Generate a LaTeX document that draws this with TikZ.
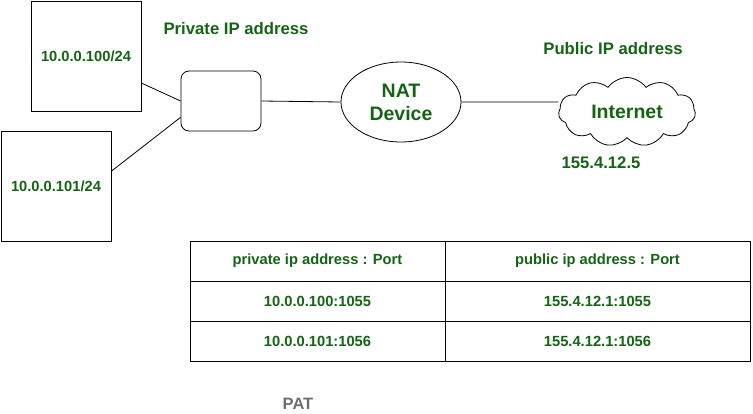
\documentclass[tikz,border=0pt]{standalone}
\usepackage{fontspec}
\setmainfont{Liberation Sans}
\usepackage{tikz}
\usetikzlibrary{shapes.geometric,shapes.symbols}
\definecolor{labelgreen}{RGB}{20,100,20}
\definecolor{patgray}{RGB}{110,110,110}
\newcommand{\hostbox}[3]{\node[hostbox] at (#1) (#2) {#3}}
\newcommand{\patcell}[4][]{\node[patcell,#1] at (#2) (#3) {#4}}
\tikzset{
  lbl/.style={text=labelgreen,font=\bfseries\fontsize{14.7}{17}\selectfont},
  biglbl/.style={text=labelgreen,font=\bfseries\fontsize{16.7}{19}\selectfont},
  hostbox/.style={draw,lbl,minimum size=110pt,inner sep=0pt},
  patcell/.style={draw,lbl,minimum height=40pt,inner sep=0pt},
  wire/.style={line width=0.8pt}
}

\begin{document}
\begin{tikzpicture}[x=1pt,y=-1pt,line width=0.8pt]
  \useasboundingbox (0,0) rectangle (753,413);
  \hostbox{86,56}{h1}{10.0.0.100/24};
  \hostbox{56,186}{h2}{10.0.0.101/24};
  \node[draw,rounded corners=8pt,minimum width=80pt,minimum height=60pt] at (221,101) (switch) {};
  \node[draw,ellipse,minimum width=120pt,minimum height=80pt,inner sep=0pt,
        text=labelgreen,font=\bfseries\fontsize{19.5}{23}\selectfont,align=center]
        at (401,102) (nat) {NAT\\Device};
  \node[draw,cloud,cloud puffs=11,cloud puff arc=110,cloud ignores aspect,
        minimum width=137pt,minimum height=69pt,
        inner sep=0pt,text=labelgreen,font=\bfseries\fontsize{19.5}{23}\selectfont]
        at (627,112) (inet) {Internet};
  \node[biglbl] at (236,29) (privlbl) {Private IP address};
  \node[biglbl] at (613,49) (publbl) {Public IP address};
  \node[biglbl] at (601,163) (pubip) {155.4.12.5};
  % translation table
  \patcell[minimum width=255pt]{317.5,261}{p1}{private ip address : Port};
  \patcell[minimum width=305pt]{597.5,261}{q1}{public ip address : Port};
  \patcell[minimum width=255pt]{317.5,301}{p2}{10.0.0.100:1055};
  \patcell[minimum width=305pt]{597.5,301}{q2}{155.4.12.1:1055};
  \patcell[minimum width=255pt]{317.5,341}{p3}{10.0.0.101:1056};
  \patcell[minimum width=305pt]{597.5,341}{q3}{155.4.12.1:1056};
  \node[text=patgray,font=\bfseries\fontsize{16.5}{19}\selectfont,inner sep=0pt] at (298,403.5) (pat) {PAT};
  \draw[wire]
        (h1.-26)     -- (switch.west)
        (h2.15)      -- (switch.202)
        (switch.east) -- (nat.west)
        (nat.east)   -- (inet.west |- nat.east);
\end{tikzpicture}
\end{document}
